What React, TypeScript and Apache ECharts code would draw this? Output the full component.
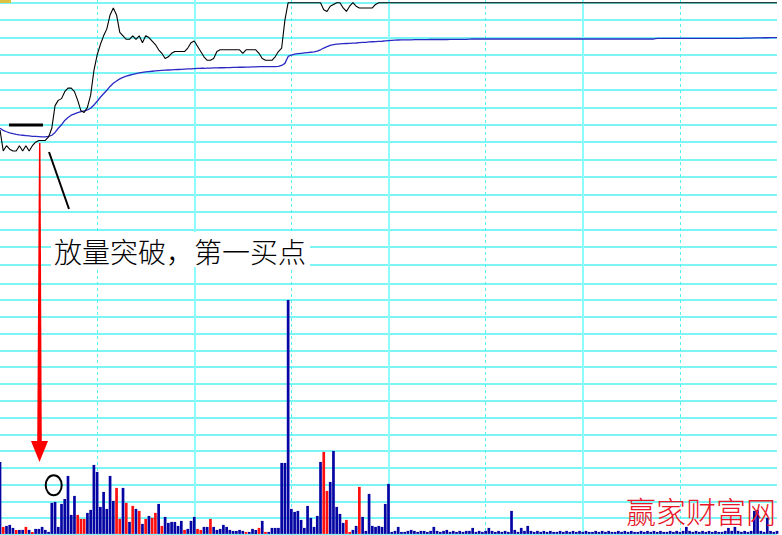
import React, { useEffect, useRef } from "react";
import * as echarts from "echarts";

// ---- Data ----
const morning: string[] = [];
const afternoon: string[] = [];
const pad = (n: number) => (n < 10 ? "0" + n : "" + n);
for (let m = 9 * 60 + 30; m <= 11 * 60 + 30; m++) morning.push(Math.floor(m / 60) + ":" + pad(m % 60));
for (let m = 13 * 60 + 1; m <= 15 * 60; m++) afternoon.push(Math.floor(m / 60) + ":" + pad(m % 60));
const times: string[] = morning.concat(afternoon);

const price: number[] = [
  10.27, 10.15, 10.18, 10.16, 10.15, 10.15, 10.18, 10.15, 10.18, 10.15,
  10.18, 10.20, 10.21, 10.21, 10.21, 10.23, 10.28, 10.41, 10.44, 10.45,
  10.49, 10.51, 10.51, 10.49, 10.44, 10.38, 10.37, 10.40, 10.47, 10.61,
  10.70, 10.76, 10.81, 10.85, 10.93, 10.97, 10.93, 10.83, 10.81, 10.79,
  10.79, 10.81, 10.79, 10.81, 10.77, 10.81, 10.80, 10.78, 10.76, 10.73,
  10.71, 10.68, 10.69, 10.71, 10.72, 10.72, 10.72, 10.72, 10.74, 10.77,
  10.78, 10.75, 10.72, 10.69, 10.67, 10.67, 10.68, 10.72, 10.73, 10.73,
  10.73, 10.73, 10.73, 10.73, 10.73, 10.71, 10.73, 10.73, 10.73, 10.73,
  10.71, 10.68, 10.67, 10.67, 10.67, 10.69, 10.72, 10.74, 10.90, 11.00,
  11.00, 11.00, 11.00, 11.00, 11.00, 11.00, 11.00, 11.00, 11.00, 11.00,
  10.96, 10.95, 10.98, 10.99, 11.00, 11.00, 10.97, 10.95, 10.98, 11.00,
  10.98, 10.97, 10.97, 10.97, 10.97, 10.97, 10.99, 11.00, 11.00, 11.00,
  11.00, 11.00, 11.00, 11.00, 11.00, 11.00, 11.00, 11.00, 11.00, 11.00,
  11.00, 11.00, 11.00, 11.00, 11.00, 11.00, 11.00, 11.00, 11.00, 11.00,
  11.00, 11.00, 11.00, 11.00, 11.00, 11.00, 11.00, 11.00, 11.00, 11.00,
  11.00, 11.00, 11.00, 11.00, 11.00, 11.00, 11.00, 11.00, 11.00, 11.00,
  11.00, 11.00, 11.00, 11.00, 11.00, 11.00, 11.00, 11.00, 11.00, 11.00,
  11.00, 11.00, 11.00, 11.00, 11.00, 11.00, 11.00, 11.00, 11.00, 11.00,
  11.00, 11.00, 11.00, 11.00, 11.00, 11.00, 11.00, 11.00, 11.00, 11.00,
  11.00, 11.00, 11.00, 11.00, 11.00, 11.00, 11.00, 11.00, 11.00, 11.00,
  11.00, 11.00, 11.00, 11.00, 11.00, 11.00, 11.00, 11.00, 11.00, 11.00,
  11.00, 11.00, 11.00, 11.00, 11.00, 11.00, 11.00, 11.00, 11.00, 11.00,
  11.00, 11.00, 11.00, 11.00, 11.00, 11.00, 11.00, 11.00, 11.00, 11.00,
  11.00, 11.00, 11.00, 11.00, 11.00, 11.00, 11.00, 11.00, 11.00, 11.00,
  11.00,
];

const avgPrice: number[] = [
  10.280, 10.268, 10.260, 10.254, 10.249, 10.245, 10.242, 10.240, 10.238, 10.236,
  10.234, 10.233, 10.232, 10.231, 10.231, 10.233, 10.240, 10.256, 10.280, 10.300,
  10.325, 10.342, 10.355, 10.363, 10.370, 10.376, 10.380, 10.385, 10.395, 10.413,
  10.435, 10.458, 10.478, 10.498, 10.520, 10.538, 10.551, 10.563, 10.572, 10.579,
  10.584, 10.589, 10.593, 10.597, 10.600, 10.603, 10.605, 10.607, 10.609, 10.611,
  10.612, 10.613, 10.614, 10.615, 10.616, 10.617, 10.618, 10.619, 10.620, 10.621,
  10.622, 10.623, 10.624, 10.624, 10.625, 10.625, 10.626, 10.626, 10.627, 10.627,
  10.628, 10.628, 10.629, 10.629, 10.630, 10.630, 10.631, 10.631, 10.632, 10.632,
  10.633, 10.633, 10.633, 10.634, 10.634, 10.634, 10.635, 10.640, 10.652, 10.692,
  10.700, 10.705, 10.708, 10.710, 10.712, 10.714, 10.716, 10.718, 10.722, 10.730,
  10.740, 10.748, 10.755, 10.760, 10.762, 10.764, 10.765, 10.766, 10.767, 10.768,
  10.769, 10.771, 10.772, 10.773, 10.775, 10.776, 10.777, 10.778, 10.779, 10.781,
  10.783, 10.784, 10.785, 10.786, 10.787, 10.787, 10.787, 10.787, 10.788, 10.788,
  10.788, 10.788, 10.788, 10.789, 10.789, 10.789, 10.789, 10.789, 10.789, 10.790,
  10.790, 10.790, 10.790, 10.790, 10.790, 10.791, 10.792, 10.792, 10.792, 10.792,
  10.792, 10.792, 10.792, 10.792, 10.792, 10.792, 10.792, 10.792, 10.792, 10.792,
  10.792, 10.792, 10.792, 10.792, 10.792, 10.792, 10.792, 10.792, 10.792, 10.792,
  10.792, 10.792, 10.792, 10.792, 10.792, 10.792, 10.792, 10.792, 10.792, 10.792,
  10.792, 10.792, 10.792, 10.792, 10.792, 10.792, 10.792, 10.792, 10.792, 10.792,
  10.792, 10.792, 10.792, 10.792, 10.792, 10.792, 10.792, 10.792, 10.792, 10.792,
  10.792, 10.792, 10.792, 10.795, 10.795, 10.795, 10.795, 10.795, 10.795, 10.795,
  10.795, 10.795, 10.795, 10.795, 10.795, 10.795, 10.795, 10.795, 10.795, 10.795,
  10.795, 10.795, 10.795, 10.795, 10.795, 10.795, 10.796, 10.796, 10.796, 10.796,
  10.797, 10.797, 10.797, 10.798, 10.798, 10.798, 10.799, 10.799, 10.800, 10.800,
  10.800,
];

// volume in hands
const volume: number[] = [
  7200, 700, 800, 900, 600, 400, 400, 400, 700, 400,
  200, 500, 500, 700, 400, 200, 3100, 3200, 700, 3000,
  3500, 5800, 1900, 3800, 1900, 1500, 1500, 2100, 2400, 6900,
  6200, 2700, 4200, 2500, 5800, 3300, 4600, 1500, 4600, 3100,
  1200, 2800, 2500, 2300, 1000, 1500, 1800, 1600, 2100, 3000,
  800, 1700, 1100, 1200, 1200, 800, 1300, 400, 500, 1300,
  1700, 500, 400, 700, 700, 1500, 700, 400, 500, 900,
  700, 400, 300, 300, 400, 300, 200, 200, 500, 400,
  600, 1300, 200, 200, 600, 600, 600, 7100, 7100, 23400,
  2500, 2200, 2300, 1400, 600, 2800, 1600, 700, 1800, 7200,
  8200, 4300, 5200, 8300, 2700, 2000, 1100, 1400, 200, 400,
  800, 4700, 1700, 300, 4000, 800, 700, 800, 700, 3000,
  5000, 200, 300, 700, 200, 200, 300, 400, 300, 200,
  300, 300, 200, 300, 700, 300, 200, 300, 400, 200,
  300, 200, 300, 200, 300, 300, 600, 200, 300, 200,
  300, 600, 300, 200, 300, 200, 300, 200, 2300, 400,
  200, 600, 300, 800, 300, 200, 300, 200, 300, 200,
  300, 200, 200, 300, 200, 300, 200, 300, 200, 300,
  200, 300, 200, 200, 300, 200, 300, 200, 300, 200,
  200, 300, 200, 300, 200, 300, 200, 200, 300, 200,
  300, 200, 300, 200, 300, 200, 200, 300, 200, 300,
  200, 300, 700, 300, 200, 300, 200, 300, 200, 300,
  200, 300, 200, 200, 300, 600, 300, 700, 300, 200,
  300, 200, 300, 2300, 2400, 300, 200, 1600, 300, 200,
  300,
];

// 1 = up tick (red), 0 = down/flat (blue)
const volUp: number[] = [
  0, 1, 0, 0, 0, 1, 0, 0, 1, 0,
  1, 0, 0, 0, 0, 0, 0, 0, 0, 0,
  0, 0, 0, 0, 1, 1, 1, 0, 0, 0,
  0, 0, 0, 0, 0, 0, 1, 1, 0, 1,
  0, 1, 0, 1, 0, 1, 0, 1, 1, 0,
  1, 0, 0, 0, 0, 0, 0, 1, 0, 0,
  0, 1, 1, 0, 0, 1, 0, 0, 0, 0,
  0, 0, 0, 0, 0, 0, 1, 0, 0, 0,
  1, 0, 1, 0, 0, 0, 0, 0, 0, 0,
  0, 0, 0, 0, 0, 0, 0, 0, 0, 0,
  1, 1, 0, 0, 0, 0, 0, 1, 1, 0,
  0, 1, 0, 0, 0, 0, 0, 0, 0, 0,
  0, 0, 0, 0, 0, 0, 0, 0, 0, 0,
  0, 0, 0, 0, 0, 0, 0, 0, 0, 0,
  0, 0, 0, 0, 0, 0, 0, 0, 0, 0,
  0, 0, 0, 0, 0, 0, 0, 0, 0, 0,
  0, 0, 0, 0, 0, 0, 0, 0, 0, 0,
  0, 0, 0, 0, 0, 0, 0, 0, 0, 0,
  0, 0, 0, 0, 0, 0, 0, 0, 0, 0,
  0, 0, 0, 0, 0, 0, 0, 0, 0, 0,
  0, 0, 0, 0, 0, 0, 0, 0, 0, 0,
  0, 0, 0, 0, 0, 0, 0, 0, 0, 0,
  0, 0, 0, 0, 0, 0, 0, 0, 0, 0,
  0, 0, 0, 0, 0, 0, 0, 0, 0, 0,
  0,
];

const annotationText = "放量突破，第一买点";
const watermarkText = "赢家财富网";

const GRID_COLOR = "#50f2f2";

export default function App() {
  const ref = useRef<HTMLDivElement>(null);
  useEffect(() => {
    document.body.style.margin = "0";
    const chart = echarts.init(ref.current!, null, { renderer: "svg" });
    const hiddenX = (gridIndex: number) => ({
      type: "category",
      gridIndex,
      data: times,
      boundaryGap: false,
      axisLine: { show: false },
      axisTick: { show: false },
      axisLabel: { show: false },
      splitLine: { show: false },
    });
    const option: any = {
      animation: false,
      backgroundColor: "#ffffff",
      grid: [
        { left: 0, width: 777, top: 2.7, height: 261.6 },
        { left: 0, width: 777, top: 283.3, height: 251.8 },
        { left: 0, width: 777, top: 0, height: 535 },
      ],
      xAxis: [
        hiddenX(0),
        hiddenX(1),
        {
          ...hiddenX(2),
          splitLine: {
            show: true,
            interval: (i: number) => i > 0 && i < 240 && i % 60 === 0,
            lineStyle: { color: "#8cfcfc", width: 2, type: "solid" },
          },
        },
        {
          ...hiddenX(2),
          splitLine: {
            show: true,
            interval: (i: number) => i % 60 === 30,
            lineStyle: { color: GRID_COLOR, width: 1, type: [3, 3] },
          },
        },
      ],
      yAxis: [
        {
          type: "value", gridIndex: 0, min: 0, max: 15, interval: 1,
          axisLine: { show: false }, axisTick: { show: false }, axisLabel: { show: false },
          splitLine: { show: true, lineStyle: { color: GRID_COLOR, width: 1.5 } },
        },
        {
          type: "value", gridIndex: 0, min: 9.5, max: 11.0, show: false,
          splitLine: { show: false },
        },
        {
          type: "value", gridIndex: 1, min: 0, max: 15, interval: 1,
          axisLine: { show: false }, axisTick: { show: false }, axisLabel: { show: false },
          splitLine: { show: true, lineStyle: { color: GRID_COLOR, width: 1.5 } },
        },
        {
          type: "value", gridIndex: 1, min: -110, max: 25070, show: false,
          splitLine: { show: false },
        },
        { type: "value", gridIndex: 2, min: 0, max: 1, show: false, splitLine: { show: false } },
      ],
      series: [
        {
          type: "bar",
          xAxisIndex: 1,
          yAxisIndex: 3,
          barWidth: 2.7,
          data: volume.map((v, i) => ({
            value: v,
            itemStyle: { color: volUp[i] ? "#ff1010" : "#0505a4" },
          })),
        },
        {
          type: "line",
          xAxisIndex: 0,
          yAxisIndex: 1,
          data: avgPrice,
          symbol: "none",
          clip: false,
          lineStyle: { color: "#2a2ac4", width: 1.3 },
        },
        {
          type: "line",
          xAxisIndex: 0,
          yAxisIndex: 1,
          data: price,
          symbol: "none",
          clip: false,
          lineStyle: { color: "#000000", width: 1.1 },
        },
      ],
      graphic: [
        { type: "rect", shape: { x: 0, y: 0, width: 11, height: 3 }, style: { fill: "#e0c040" }, z: 100 },
        { type: "line", shape: { x1: 9, y1: 125, x2: 43, y2: 125 }, style: { stroke: "#000", lineWidth: 3 }, z: 100 },
        { type: "line", shape: { x1: 49, y1: 152, x2: 69, y2: 209 }, style: { stroke: "#000", lineWidth: 2 }, z: 100 },
        {
          type: "polygon",
          shape: { points: [[39, 143], [40.5, 143], [41.8, 444], [37.2, 444]] },
          style: { fill: "#ff0000" }, z: 100,
        },
        {
          type: "polygon",
          shape: { points: [[31, 441], [48, 441], [39.5, 462]] },
          style: { fill: "#ff0000" }, z: 100,
        },
        { type: "rect", shape: { x: 51, y: 232, width: 259, height: 35 }, style: { fill: "#ffffff" }, z: 100 },
        {
          type: "text", x: 54, y: 251, z: 101,
          style: {
            text: annotationText,
            font: '300 28px "Noto Sans CJK SC"',
            fill: "#000",
            align: "left",
            verticalAlign: "middle",
          },
        },
        {
          type: "ellipse", shape: { cx: 53.7, cy: 485.3, rx: 8, ry: 10 },
          style: { fill: "none", stroke: "#000", lineWidth: 2 }, z: 100,
        },
        {
          type: "text", x: 626, y: 510, z: 100,
          style: {
            text: watermarkText,
            font: '300 30px "Noto Sans CJK SC"',
            fill: "#e8182a",
            align: "left",
            verticalAlign: "middle",
          },
        },
      ],
    };
    chart.setOption(option);
    return () => chart.dispose();
  }, []);
  return (
    <div
      ref={ref}
      style={{ position: "fixed", left: 0, top: 0, width: 782, height: 535 }}
    />
  );
}
